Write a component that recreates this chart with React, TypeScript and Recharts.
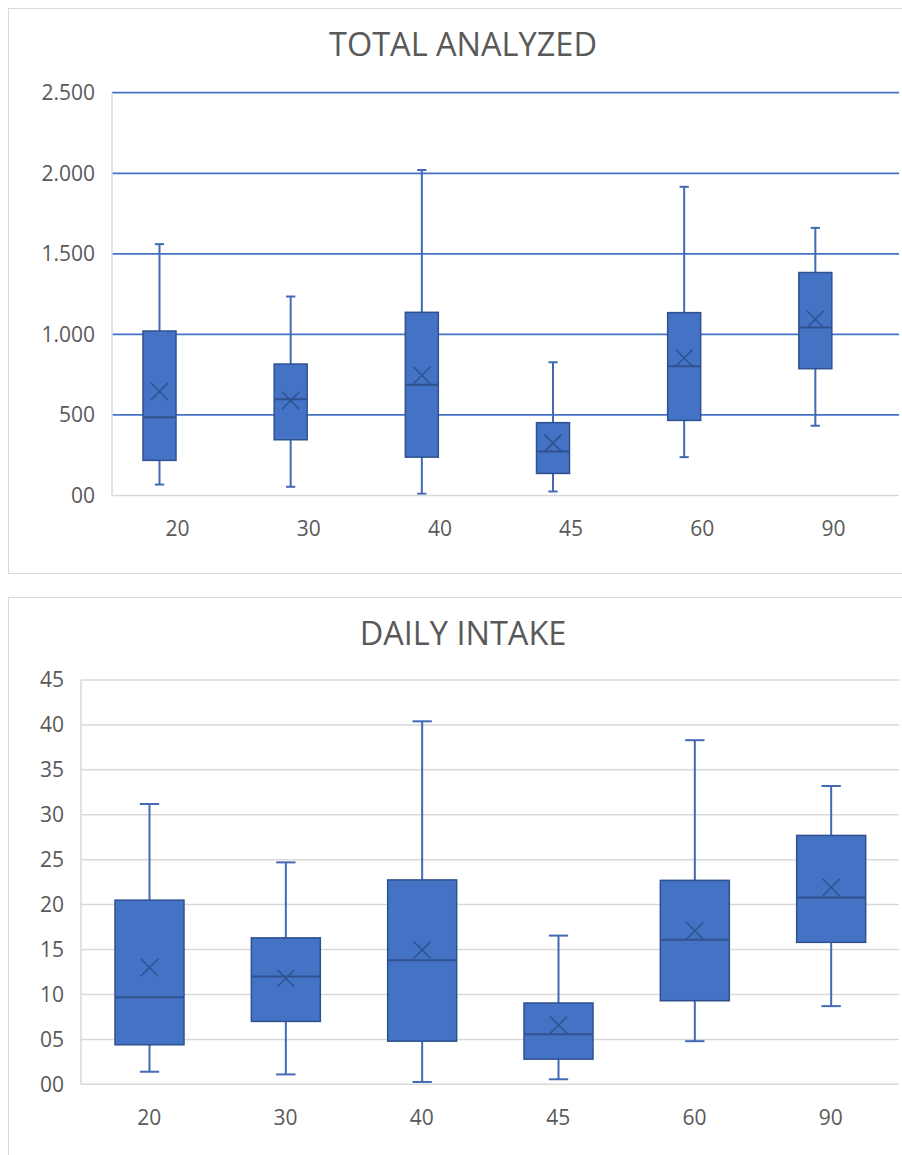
import React from 'react';
import { ComposedChart, Bar, XAxis, YAxis, CartesianGrid } from 'recharts';

const categories = ['20', '30', '40', '45', '60', '90'];

// TOTAL ANALYZED
const totalMin = [68, 54, 11, 25, 238, 433];
const totalQ1 = [218, 346, 238, 137, 466, 787];
const totalMedian = [485, 597, 688, 273, 802, 1042];
const totalQ3 = [1021, 816, 1137, 452, 1135, 1384];
const totalMax = [1560, 1235, 2020, 827, 1916, 1661];
const totalMean = [646, 590, 746, 325, 853, 1094];
const totalTicks = [0, 500, 1000, 1500, 2000, 2500];

// DAILY INTAKE
const intakeMin = [1.4, 1.1, 0.26, 0.56, 4.8, 8.7];
const intakeQ1 = [4.4, 7.0, 4.8, 2.8, 9.3, 15.8];
const intakeMedian = [9.7, 12.0, 13.8, 5.57, 16.1, 20.8];
const intakeQ3 = [20.5, 16.3, 22.75, 9.05, 22.7, 27.7];
const intakeMax = [31.2, 24.7, 40.4, 16.55, 38.3, 33.2];
const intakeMean = [13.0, 11.8, 14.95, 6.6, 17.1, 21.9];
const intakeTicks = [0, 5, 10, 15, 20, 25, 30, 35, 40, 45];

const BOX_FILL = '#4472C4';
const BOX_EDGE = '#2F528F';
const WHISKER = '#4169B4';
const TEXT = '#595959';
const LIGHT = '#D9D9D9';
const FONT = '"Open Sans", "Noto Sans", sans-serif';

const buildRows = (
    min: number[], q1: number[], median: number[], q3: number[], max: number[], mean: number[]
) => categories.map((name, i) => ({
    name,
    range: [min[i], max[i]],
    min: min[i],
    q1: q1[i],
    median: median[i],
    q3: q3[i],
    max: max[i],
    mean: mean[i],
    blank: null,
}));

const totalRows = buildRows(totalMin, totalQ1, totalMedian, totalQ3, totalMax, totalMean);
const intakeRows = buildRows(intakeMin, intakeQ1, intakeMedian, intakeQ3, intakeMax, intakeMean);

// range bar gives min..max in pixels; the rest is placed on the same linear scale
const BoxShape = (props: any) => {
    const { x, y, width, height, payload } = props;
    if (!payload || height == null || isNaN(y)) return null;
    const { min, q1, median, q3, max, mean } = payload;
    const top = Math.min(y, y + height);
    const bottom = Math.max(y, y + height);
    const toY = (v: number) => bottom - ((v - min) / (max - min)) * (bottom - top);
    const cx = x + width / 2;
    const cap = width * 0.28;
    const yQ3 = toY(q3);
    const yQ1 = toY(q1);
    const yMed = toY(median);
    const yMean = toY(mean);
    const m = 8.5;
    return (
        <g>
            <line x1={cx} x2={cx} y1={top} y2={yQ3} stroke={WHISKER} strokeWidth={2} />
            <line x1={cx} x2={cx} y1={yQ1} y2={bottom} stroke={WHISKER} strokeWidth={2} />
            <line x1={cx - cap / 2} x2={cx + cap / 2} y1={top} y2={top} stroke={WHISKER} strokeWidth={2} />
            <line x1={cx - cap / 2} x2={cx + cap / 2} y1={bottom} y2={bottom} stroke={WHISKER} strokeWidth={2} />
            <rect x={x} y={yQ3} width={width} height={yQ1 - yQ3} fill={BOX_FILL} stroke={BOX_EDGE} strokeWidth={1.5} />
            <line x1={x} x2={x + width} y1={yMed} y2={yMed} stroke={BOX_EDGE} strokeWidth={2} />
            <path
                d={`M${cx - m},${yMean - m}L${cx + m},${yMean + m}M${cx - m},${yMean + m}L${cx + m},${yMean - m}`}
                stroke={BOX_EDGE}
                strokeWidth={1.5}
                fill="none"
            />
        </g>
    );
};

const tickStyle = { fill: TEXT, fontSize: 21, fontFamily: FONT };

const formatTotal = (v: number) => {
    if (v === 0) return '00';
    if (v >= 1000) return `${Math.floor(v / 1000)}.${String(v % 1000).padStart(3, '0')}`;
    return String(v);
};
const formatIntake = (v: number) => (v < 10 ? `0${v}` : String(v));

const panelStyle: React.CSSProperties = {
    position: 'absolute',
    left: 8,
    width: 920,
    border: `1px solid ${LIGHT}`,
    boxSizing: 'border-box',
    background: '#fff',
};

const titleStyle: React.CSSProperties = {
    position: 'absolute',
    left: 8,
    width: 910,
    textAlign: 'center',
    fontFamily: FONT,
    fontSize: 32.5,
    lineHeight: '32.5px',
    color: TEXT,
    whiteSpace: 'nowrap',
};

export default function App() {
    return (
        <div style={{ position: 'absolute', left: 0, top: 0, width: 902, height: 1155, overflow: 'hidden', background: '#fff' }}>
            <div style={{ ...panelStyle, top: 8, height: 566 }} />
            <div style={{ ...panelStyle, top: 597, height: 600 }} />

            <div style={{ ...titleStyle, top: 28.1 }}>TOTAL ANALYZED</div>
            <div style={{ ...titleStyle, top: 616.8 }}>DAILY INTAKE</div>

            <div style={{ position: 'absolute', left: 0, top: 0 }}>
                <ComposedChart
                    width={902}
                    height={574}
                    data={totalRows}
                    margin={{ top: 92.7, right: 3, bottom: 0, left: 0 }}
                    barGap={4}
                >
                    <CartesianGrid horizontal vertical={false} horizontalValues={[500, 1000, 1500, 2000, 2500]} stroke={BOX_FILL} strokeWidth={1.75} />
                    <XAxis
                        dataKey="name"
                        height={78.5}
                        tickLine={false}
                        tickSize={0}
                        tickMargin={26}
                        axisLine={{ stroke: LIGHT, strokeWidth: 1.5 }}
                        tick={tickStyle}
                    />
                    <YAxis
                        type="number"
                        width={112}
                        domain={[0, 2500]}
                        ticks={totalTicks}
                        interval={0}
                        tickLine={false}
                        tickSize={0}
                        tickMargin={17}
                        axisLine={{ stroke: LIGHT, strokeWidth: 1.5 }}
                        tick={tickStyle}
                        tickFormatter={formatTotal}
                    />
                    <Bar dataKey="range" barSize={33} shape={BoxShape} isAnimationActive={false} />
                    {/* empty second series, keeps the boxes left of the category centre */}
                    <Bar dataKey="blank" barSize={33} isAnimationActive={false} />
                </ComposedChart>
            </div>

            <div style={{ position: 'absolute', left: 0, top: 597 }}>
                <ComposedChart
                    width={902}
                    height={558}
                    data={intakeRows}
                    margin={{ top: 83, right: 3, bottom: 0, left: 0 }}
                >
                    <CartesianGrid horizontal vertical={false} horizontalValues={[5, 10, 15, 20, 25, 30, 35, 40, 45]} stroke={LIGHT} strokeWidth={1.5} />
                    <XAxis
                        dataKey="name"
                        height={70.7}
                        tickLine={false}
                        tickSize={0}
                        tickMargin={26}
                        axisLine={{ stroke: LIGHT, strokeWidth: 1.5 }}
                        tick={tickStyle}
                    />
                    <YAxis
                        type="number"
                        width={81}
                        domain={[0, 45]}
                        ticks={intakeTicks}
                        interval={0}
                        tickLine={false}
                        tickSize={0}
                        tickMargin={17}
                        axisLine={{ stroke: LIGHT, strokeWidth: 1.5 }}
                        tick={tickStyle}
                        tickFormatter={formatIntake}
                    />
                    <Bar dataKey="range" barSize={69} shape={BoxShape} isAnimationActive={false} />
                </ComposedChart>
            </div>
        </div>
    );
}
